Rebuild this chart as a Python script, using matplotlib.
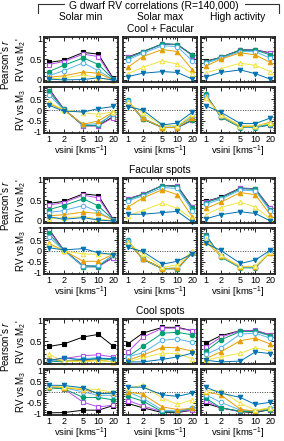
import matplotlib
matplotlib.use("Agg")
import matplotlib.pyplot as plt
from matplotlib.ticker import FixedLocator, MultipleLocator, NullFormatter
from matplotlib.lines import Line2D

plt.rcParams['font.family'] = ['Liberation Sans', 'DejaVu Sans']
plt.rcParams['mathtext.fontset'] = 'custom'
plt.rcParams['mathtext.rm'] = 'Liberation Sans'
plt.rcParams['mathtext.it'] = 'Liberation Sans:italic'

vsini = [1, 2, 5, 10, 20]
xtick_labels = ["1", "2", "5", "10", "20"]
columns = ["Solar min", "Solar max", "High activity"]
groups = ["Cool + Facular", "Facular spots", "Cool spots"]

# series order: black, purple, green, light blue, orange, yellow, blue
colors = ["#000000", "#b44ee8", "#009e73", "#56b4e9", "#e69f00", "#f0e442", "#0072b2"]
markers = ["s", "s", "o", "o", "^", "^", "v"]
filled = [True, False, True, False, True, False, True]

# ---- Cool + Facular ----
cf_min_m2 = [[0.42, 0.47, 0.66, 0.62, 0.04], [0.37, 0.44, 0.62, 0.56, 0.02],
             [0.20, 0.35, 0.53, 0.37, 0.02], [0.10, 0.22, 0.41, 0.22, 0.01],
             [0.06, 0.10, 0.19, 0.16, 0.00], [0.02, 0.05, 0.12, 0.05, 0.00],
             [0.02, 0.00, 0.01, 0.05, 0.00]]
cf_min_m3 = [[0.98, 0.05, -0.72, -0.72, -0.30], [0.95, 0.05, -0.72, -0.72, -0.35],
             [0.85, 0.03, -0.70, -0.70, -0.15], [0.70, 0.02, -0.68, -0.62, -0.20],
             [0.30, 0.00, -0.65, -0.50, -0.10], [0.35, 0.02, -0.12, -0.20, -0.08],
             [0.22, -0.05, -0.09, 0.06, 0.16]]
cf_max_m2 = [[0.55, 0.68, 0.86, 0.85, 0.60], [0.54, 0.67, 0.86, 0.85, 0.58],
             [0.52, 0.67, 0.87, 0.85, 0.60], [0.48, 0.64, 0.82, 0.80, 0.46],
             [0.30, 0.56, 0.73, 0.68, 0.25], [0.15, 0.30, 0.46, 0.38, 0.15],
             [0.08, 0.16, 0.20, 0.18, 0.02]]
cf_max_m3 = [[0.42, -0.40, -0.80, -0.80, -0.47], [0.40, -0.40, -0.80, -0.80, -0.47],
             [0.45, -0.42, -0.80, -0.80, -0.45], [0.40, -0.38, -0.78, -0.76, -0.28],
             [0.38, -0.38, -0.80, -0.80, -0.35], [0.35, -0.13, -0.72, -0.72, -0.20],
             [0.15, 0.00, -0.68, -0.60, -0.10]]
cf_high_m2 = [[0.45, 0.54, 0.72, 0.72, 0.65], [0.44, 0.54, 0.71, 0.72, 0.64],
              [0.43, 0.54, 0.71, 0.72, 0.60], [0.40, 0.52, 0.68, 0.68, 0.52],
              [0.33, 0.50, 0.65, 0.60, 0.42], [0.17, 0.27, 0.40, 0.35, 0.20],
              [0.07, 0.18, 0.24, 0.15, 0.02]]
cf_high_m3 = [[0.70, -0.30, -0.78, -0.78, -0.68], [0.70, -0.30, -0.78, -0.78, -0.68],
              [0.72, -0.32, -0.80, -0.80, -0.68], [0.65, -0.28, -0.78, -0.78, -0.62],
              [0.60, -0.25, -0.75, -0.75, -0.55], [0.55, -0.22, -0.72, -0.72, -0.60],
              [0.20, -0.10, -0.62, -0.62, -0.37]]

# ---- Facular spots ----
fac_min_m2 = [[0.42, 0.47, 0.65, 0.61, 0.04], [0.38, 0.44, 0.62, 0.55, 0.03],
              [0.27, 0.37, 0.53, 0.36, 0.03], [0.20, 0.25, 0.37, 0.22, 0.02],
              [0.12, 0.15, 0.21, 0.18, 0.02], [0.05, 0.08, 0.10, 0.05, 0.00],
              [0.10, 0.04, 0.08, 0.02, 0.00]]
fac_min_m3 = [[1.00, 0.05, -0.68, -0.68, -0.30], [0.95, 0.05, -0.72, -0.72, -0.30],
              [0.80, 0.05, -0.72, -0.72, -0.18], [0.65, 0.02, -0.70, -0.65, -0.20],
              [0.35, 0.02, -0.47, -0.47, -0.15], [0.30, 0.00, -0.13, -0.15, -0.12],
              [0.15, 0.05, 0.11, -0.08, -0.16]]
fac_max_m2 = [[0.53, 0.64, 0.85, 0.84, 0.34], [0.53, 0.64, 0.85, 0.83, 0.33],
              [0.51, 0.63, 0.85, 0.82, 0.30], [0.48, 0.60, 0.80, 0.78, 0.25],
              [0.33, 0.55, 0.75, 0.63, 0.10], [0.12, 0.25, 0.43, 0.30, 0.05],
              [0.16, 0.16, 0.20, 0.23, -0.03]]
fac_max_m3 = [[0.43, -0.36, -0.80, -0.80, -0.10], [0.43, -0.36, -0.80, -0.80, -0.10],
              [0.48, -0.38, -0.82, -0.82, -0.08], [0.45, -0.35, -0.80, -0.78, -0.10],
              [0.40, -0.35, -0.80, -0.78, -0.05], [0.38, -0.13, -0.75, -0.63, 0.00],
              [0.16, -0.02, -0.60, -0.47, -0.13]]
fac_high_m2 = [[0.47, 0.57, 0.79, 0.77, 0.31], [0.46, 0.56, 0.78, 0.77, 0.30],
               [0.44, 0.55, 0.77, 0.76, 0.27], [0.40, 0.52, 0.74, 0.72, 0.24],
               [0.30, 0.45, 0.68, 0.63, 0.15], [0.15, 0.32, 0.45, 0.33, 0.05],
               [0.05, 0.15, 0.22, 0.18, 0.00]]
fac_high_m3 = [[0.72, -0.25, -0.75, -0.75, -0.05], [0.72, -0.25, -0.75, -0.75, -0.05],
               [0.74, -0.27, -0.77, -0.77, -0.05], [0.65, -0.25, -0.75, -0.73, -0.05],
               [0.43, -0.22, -0.72, -0.72, -0.08], [0.55, -0.20, -0.70, -0.70, -0.05],
               [0.35, 0.03, -0.57, -0.41, 0.03]]

# ---- Cool spots ----
cool_min_m2 = [[0.37, 0.43, 0.60, 0.66, 0.38], [0.05, 0.08, 0.15, 0.17, 0.12],
               [0.02, 0.00, 0.05, 0.08, 0.05], [0.05, 0.02, 0.08, 0.10, 0.07],
               [0.08, 0.02, 0.03, 0.05, 0.00], [0.18, 0.02, 0.00, 0.03, 0.00],
               [0.03, 0.10, 0.05, 0.08, 0.08]]
cool_min_m3 = [[-0.95, -0.94, -0.83, -0.83, -0.62], [0.25, 0.15, -0.47, -0.68, -0.60],
               [0.18, 0.15, -0.25, -0.25, -0.36], [0.25, 0.20, 0.00, -0.15, -0.15],
               [0.25, 0.20, 0.10, -0.05, -0.05], [0.28, 0.22, 0.15, 0.11, -0.02],
               [0.31, 0.30, 0.19, -0.08, -0.05]]
cool_max_m2 = [[0.43, 0.69, 0.83, 0.83, 0.75], [0.24, 0.59, 0.81, 0.81, 0.75],
               [0.12, 0.37, 0.69, 0.71, 0.65], [0.12, 0.22, 0.52, 0.55, 0.47],
               [0.04, 0.16, 0.35, 0.34, 0.26], [0.00, 0.10, 0.21, 0.20, 0.08],
               [0.00, 0.00, 0.06, 0.12, 0.21]]
cool_max_m3 = [[-0.52, -0.72, -0.94, -0.94, -0.83], [-0.39, -0.63, -0.90, -0.90, -0.83],
               [-0.20, -0.41, -0.90, -0.90, -0.75], [0.00, -0.28, -0.83, -0.87, -0.72],
               [0.00, -0.10, -0.68, -0.80, -0.75], [0.16, 0.31, -0.28, -0.57, -0.36],
               [0.22, 0.22, -0.13, -0.20, -0.05]]
cool_high_m2 = [[0.45, 0.63, 0.75, 0.75, 0.65], [0.35, 0.59, 0.75, 0.76, 0.65],
                [0.26, 0.53, 0.73, 0.73, 0.63], [0.18, 0.34, 0.67, 0.69, 0.57],
                [0.08, 0.24, 0.51, 0.57, 0.43], [0.04, 0.12, 0.21, 0.34, 0.26],
                [0.04, 0.00, 0.02, 0.24, 0.20]]
cool_high_m3 = [[-0.52, -0.72, -0.90, -0.94, -0.80], [-0.41, -0.72, -0.88, -0.90, -0.80],
                [-0.28, -0.72, -0.88, -0.90, -0.80], [-0.13, -0.47, -0.83, -0.88, -0.75],
                [0.00, -0.13, -0.79, -0.88, -0.72], [0.06, 0.06, -0.52, -0.83, -0.72],
                [0.22, -0.05, -0.25, -0.57, -0.47]]

panels = [
    [(cf_min_m2, cf_min_m3), (cf_max_m2, cf_max_m3), (cf_high_m2, cf_high_m3)],
    [(fac_min_m2, fac_min_m3), (fac_max_m2, fac_max_m3), (fac_high_m2, fac_high_m3)],
    [(cool_min_m2, cool_min_m3), (cool_max_m2, cool_max_m3), (cool_high_m2, cool_high_m3)],
]

# layout in pixels
W, H = 284, 441
col_left = [44, 123, 201]
col_w = 74
grp_top = [37, 178, 319]
top_h, gap, bot_h = 45, 5, 46
FS = 6.5      # tick labels
LFS = 7.0     # axis labels
TFS = 7.4     # titles

fig = plt.figure(figsize=(W / 100, H / 100), dpi=100)


def px_axes(x0, y0, w, h):
    return fig.add_axes([x0 / W, 1 - (y0 + h) / H, w / W, h / H])


def style(ax, ylim, major, show_x, show_y):
    ax.set_xscale("log")
    ax.set_xlim(0.8, 25)
    ax.set_ylim(*ylim)
    ax.xaxis.set_major_locator(FixedLocator(vsini))
    ax.xaxis.set_minor_locator(FixedLocator([0.9, 3, 4, 6, 7, 8, 9]))
    ax.xaxis.set_minor_formatter(NullFormatter())
    ax.yaxis.set_major_locator(FixedLocator(major))
    ax.yaxis.set_minor_locator(MultipleLocator(0.1))
    if show_x:
        ax.set_xticklabels(xtick_labels)
    else:
        ax.set_xticklabels([])
    if show_y:
        ax.set_yticklabels(["%g" % v for v in major])
    else:
        ax.set_yticklabels([])
    ax.tick_params(which="both", direction="in", top=True, right=True,
                   labelsize=FS, pad=1.5, width=0.6)
    ax.tick_params(which="major", length=3)
    ax.tick_params(which="minor", length=1.5)
    for s in ax.spines.values():
        s.set_linewidth(1.3)
        s.set_color("#222222")


def draw(ax, data):
    for vals, c, m, f in zip(data, colors, markers, filled):
        ax.plot(vsini, vals, color=c, lw=0.7, marker=m, ms=3.2,
                mfc=c if f else "white", mec=c, mew=0.8, clip_on=False)


for g in range(3):
    top = grp_top[g]
    for c in range(3):
        m2, m3 = panels[g][c]
        ax1 = px_axes(col_left[c], top, col_w, top_h)
        style(ax1, (-0.05, 1.03), [0, 0.5, 1], False, c == 0)
        draw(ax1, m2)
        ax2 = px_axes(col_left[c], top + top_h + gap, col_w, bot_h)
        style(ax2, (-1.05, 1.05), [-1, -0.5, 0, 0.5, 1], True, c == 0)
        ax2.axhline(0, color="#444444", lw=0.7, ls=(0, (1, 1.5)), zorder=0)
        draw(ax2, m3)
        ax2.set_xlabel("vsini [kms$^{-1}$]", fontsize=6.8, labelpad=0)
    # left-hand labels for this group
    fig.text(5 / W, 1 - (top + top_h / 2 + 5) / H, "Pearson's $\\it{r}$",
             rotation=90, ha="center", va="center", fontsize=LFS)
    fig.text(21 / W, 1 - (top + top_h / 2) / H, "RV vs M$_2$'",
             rotation=90, ha="center", va="center", fontsize=LFS)
    fig.text(21 / W, 1 - (top + top_h + gap + bot_h / 2) / H, "RV vs M$_3$",
             rotation=90, ha="center", va="center", fontsize=LFS)
    fig.text((col_left[1] + col_w / 2) / W, 1 - (top - 8) / H, groups[g],
             ha="center", va="center", fontsize=TFS)

# column headings
for c in range(3):
    fig.text((col_left[c] + col_w / 2) / W, 1 - 17 / H, columns[c],
             ha="center", va="center", fontsize=TFS)

# overall title with bracket
fig.text(154 / W, 1 - 6 / H, "G dwarf RV correlations (R=140,000)",
         ha="center", va="center", fontsize=TFS)
bx0, bx1 = col_left[0] - 6, col_left[2] + col_w + 4
for xs, ys in [([bx0, bx0, 64], [12.5, 4, 4]), ([245, bx1, bx1], [4, 4, 12.5])]:
    fig.add_artist(Line2D([x / W for x in xs], [1 - y / H for y in ys],
                          color="#333333", lw=0.8))

fig.savefig("out.png", dpi=100)
